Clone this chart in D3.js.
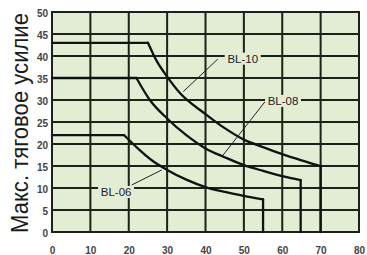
<!DOCTYPE html>
<html>
<head>
<meta charset="utf-8">
<script src="https://cdn.jsdelivr.net/npm/d3@7"></script>
<style>
  body { margin: 0; background: #fff; }
  svg { display: block; }
</style>
</head>
<body>
<svg id="canvas" width="367" height="255"></svg>
<script>
'use strict';

// speed (x) vs max pulling force (y)
const seriesNames = ['BL-10', 'BL-08', 'BL-06'];
const bl10 = [[0, 43], [25, 43], [27.2, 39], [30, 35.3], [33.1, 31.8], [40, 26.8], [45, 23.6],
              [50, 21], [55, 19.3], [60, 17.7], [65, 16.3], [70, 15], [70, 0]];
const bl08 = [[0, 35], [22, 35], [25.5, 30], [30, 25.8], [35, 22], [40, 19], [45, 17],
              [50, 15.2], [55, 13.9], [60, 12.7], [64.8, 11.8], [64.8, 0]];
const bl06 = [[0, 22], [18.8, 22], [23, 18.5], [26, 16.3], [30, 14.1], [35, 11.9], [40, 10.2],
              [45, 9.1], [50, 8.2], [55, 7.4], [55, 0]];
const xTicks = [0, 10, 20, 30, 40, 50, 60, 70, 80];
const yTicks = [0, 5, 10, 15, 20, 25, 30, 35, 40, 45, 50];
const yTitle = 'Макс. тяговое усилие';

// label anchors and leader lines, in data units
const labelSpots = [
  {name: 'BL-10', at: [49.7, 39.4], from: [43.2, 39.3], to: [34.2, 31.9]},
  {name: 'BL-08', at: [60.2, 29.8], from: [55.5, 29.6], to: [44.6, 17.5]},
  {name: 'BL-06', at: [16.7, 9.1], from: [20.8, 10.7], to: [28.6, 14.1]}
];

function Main() {
  const svg = d3.select('#canvas');
  const x = d3.scaleLinear().domain([0, 80]).range([52, 359]);
  const y = d3.scaleLinear().domain([0, 50]).range([232, 12]);
  const bg = '#e3edd4';
  const ink = '#1c211a';

  svg.append('rect')
      .attr('x', x(0)).attr('y', y(50))
      .attr('width', x(80) - x(0)).attr('height', y(0) - y(50))
      .attr('fill', bg);

  svg.append('g').selectAll('line')
      .data(xTicks)
    .enter().append('line')
      .attr('x1', d => x(d)).attr('x2', d => x(d))
      .attr('y1', y(0)).attr('y2', y(50))
      .attr('stroke', ink).attr('stroke-width', 2);

  svg.append('g').selectAll('line')
      .data(yTicks)
    .enter().append('line')
      .attr('x1', x(0) - 1).attr('x2', x(80) + 1)
      .attr('y1', d => y(d)).attr('y2', d => y(d))
      .attr('stroke', ink).attr('stroke-width', 2);

  // flat top, smooth falling part, straight drop to zero
  const smooth = d3.line()
      .x(d => x(d[0]))
      .y(d => y(d[1]))
      .curve(d3.curveMonotoneX);
  const straight = d3.line()
      .x(d => x(d[0]))
      .y(d => y(d[1]));

  const curves = svg.append('g').selectAll('g')
      .data([bl10, bl08, bl06])
    .enter().append('g')
      .attr('fill', 'none')
      .attr('stroke', '#111')
      .attr('stroke-width', 2.3)
      .attr('stroke-linejoin', 'round')
      .attr('stroke-linecap', 'round');
  curves.append('path')
      .attr('d', d => straight(d.slice(0, 2)));
  curves.append('path')
      .attr('d', d => smooth(d.slice(1, -1)));
  curves.append('path')
      .attr('d', d => straight(d.slice(-2)));

  // leader lines + labels
  const lab = svg.append('g').selectAll('g')
      .data(labelSpots)
    .enter().append('g');

  lab.append('line')
      .attr('x1', d => x(d.from[0])).attr('y1', d => y(d.from[1]))
      .attr('x2', d => x(d.to[0])).attr('y2', d => y(d.to[1]))
      .attr('stroke', '#222').attr('stroke-width', 1);

  lab.append('rect')
      .attr('x', d => x(d.at[0]) - 18)
      .attr('y', d => y(d.at[1]) - 6)
      .attr('width', 36).attr('height', 12)
      .attr('fill', bg);

  lab.append('text')
      .attr('x', d => x(d.at[0]))
      .attr('y', d => y(d.at[1]))
      .attr('dy', '0.36em')
      .attr('text-anchor', 'middle')
      .attr('font-family', 'Liberation Sans, Arial, sans-serif')
      .attr('font-size', 11.5)
      .attr('fill', '#222')
      .text(d => d.name);

  const xAxis = svg.append('g')
      .attr('transform', 'translate(0,' + y(0) + ')')
      .call(d3.axisBottom(x).tickValues(xTicks).tickSize(0).tickPadding(15));
  const yAxis = svg.append('g')
      .attr('transform', 'translate(' + x(0) + ',1.5)')
      .call(d3.axisLeft(y).tickValues(yTicks).tickSize(0).tickPadding(4));

  [xAxis, yAxis].forEach(function(g) {
    g.select('.domain').remove();
    g.selectAll('text')
        .attr('font-family', 'Liberation Sans, Arial, sans-serif')
        .attr('font-size', 10)
        .attr('font-weight', 'bold')
        .attr('fill', '#444');
  });

  svg.append('text')
      .attr('transform', 'translate(28,123) rotate(-90)')
      .attr('text-anchor', 'middle')
      .attr('font-family', 'Liberation Sans, Arial, sans-serif')
      .attr('font-size', 23)
      .attr('textLength', 220)
      .attr('lengthAdjust', 'spacingAndGlyphs')
      .attr('fill', '#1a1a1a')
      .text(yTitle);
}

Main();
</script>
</body>
</html>
